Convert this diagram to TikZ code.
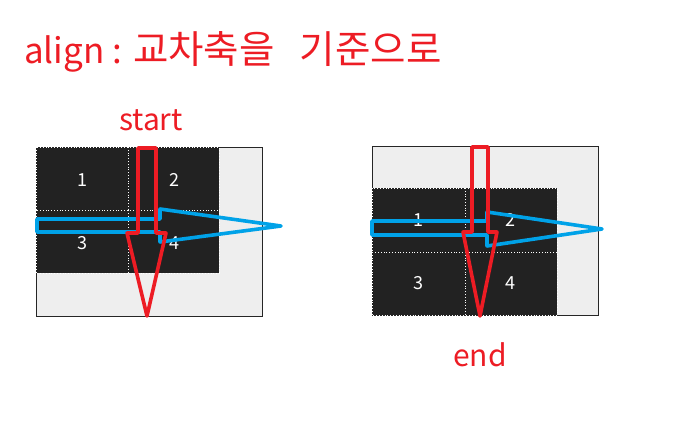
\documentclass[tikz,border=0pt]{standalone}
\usepackage{fontspec}
\setmainfont{Noto Sans CJK KR}
\newcommand{\krbig}{\fontsize{38.5}{40}\selectfont}
\begin{document}
\begin{tikzpicture}[x=1pt,y=-1pt,
  panel/.style={draw=black!85,fill=panelgray,line width=0.9pt},
  cell/.style={fill=celldark,draw=white,dotted,line width=0.8pt},
  num/.style={text=white,font=\fontsize{18}{20}\selectfont},
  redarrow/.style={draw=myred,line width=3.6pt,line join=round},
  bluearrow/.style={draw=myblue,line width=3.6pt,line join=round},
  label/.style={text=myred,inner sep=0pt}]
\definecolor{myred}{HTML}{ED1C24}
\definecolor{myblue}{HTML}{00A2E8}
\definecolor{panelgray}{HTML}{EEEEEE}
\definecolor{celldark}{HTML}{222222}
\useasboundingbox[fill=white] (0,0) rectangle (674,438);
% title
\node[label,anchor=west,font=\fontsize{35}{40}\selectfont] (title) at (24,52) {align :\hspace{11pt}{\krbig 교차축을}\hspace{25pt}{\krbig 기준으로}};
\node[label,font=\fontsize{30}{34}\selectfont] (start) at (151,120) {start};
\node[label,font=\fontsize{30}{34}\selectfont] (endl) at (480,355) {end};
% left panel
\draw[panel] (36,147) rectangle (262,316);
\draw[cell] (36,147) rectangle (128,210);
\draw[cell] (128,147) rectangle (219,210);
\draw[cell] (36,210) rectangle (128,273);
\draw[cell] (128,210) rectangle (219,273);
\node[num] (l1) at (82,180) {1};
\node[num] (l2) at (174,180) {2};
\node[num] (l3) at (82,243) {3};
\node[num] (l4) at (174,243) {4};
% right panel
\draw[panel] (372,146) rectangle (598,315);
\draw[cell] (372,188) rectangle (465,252);
\draw[cell] (465,188) rectangle (557,252);
\draw[cell] (372,252) rectangle (465,315);
\draw[cell] (465,252) rectangle (557,315);
\node[num] (r1) at (418,220) {1};
\node[num] (r2) at (510,220) {2};
\node[num] (r3) at (418,283) {3};
\node[num] (r4) at (510,283) {4};
% arrows left
\draw[bluearrow] (37,219) -- (160,219) -- (160,209) -- (281,226) -- (160,242) -- (160,232) -- (37,232) -- cycle;
\draw[redarrow] (138,148) -- (156,148) -- (156,233) -- (166,233) -- (147,316) -- (127,233) -- (138,233) -- cycle;
% arrows right
\draw[bluearrow] (372,221) -- (487,221) -- (487,212) -- (602,229) -- (487,246) -- (487,235) -- (372,235) -- cycle;
\draw[redarrow] (472,147) -- (488,147) -- (488,232) -- (497,232) -- (480,316) -- (463,232) -- (472,232) -- cycle;
\end{tikzpicture}
\end{document}
